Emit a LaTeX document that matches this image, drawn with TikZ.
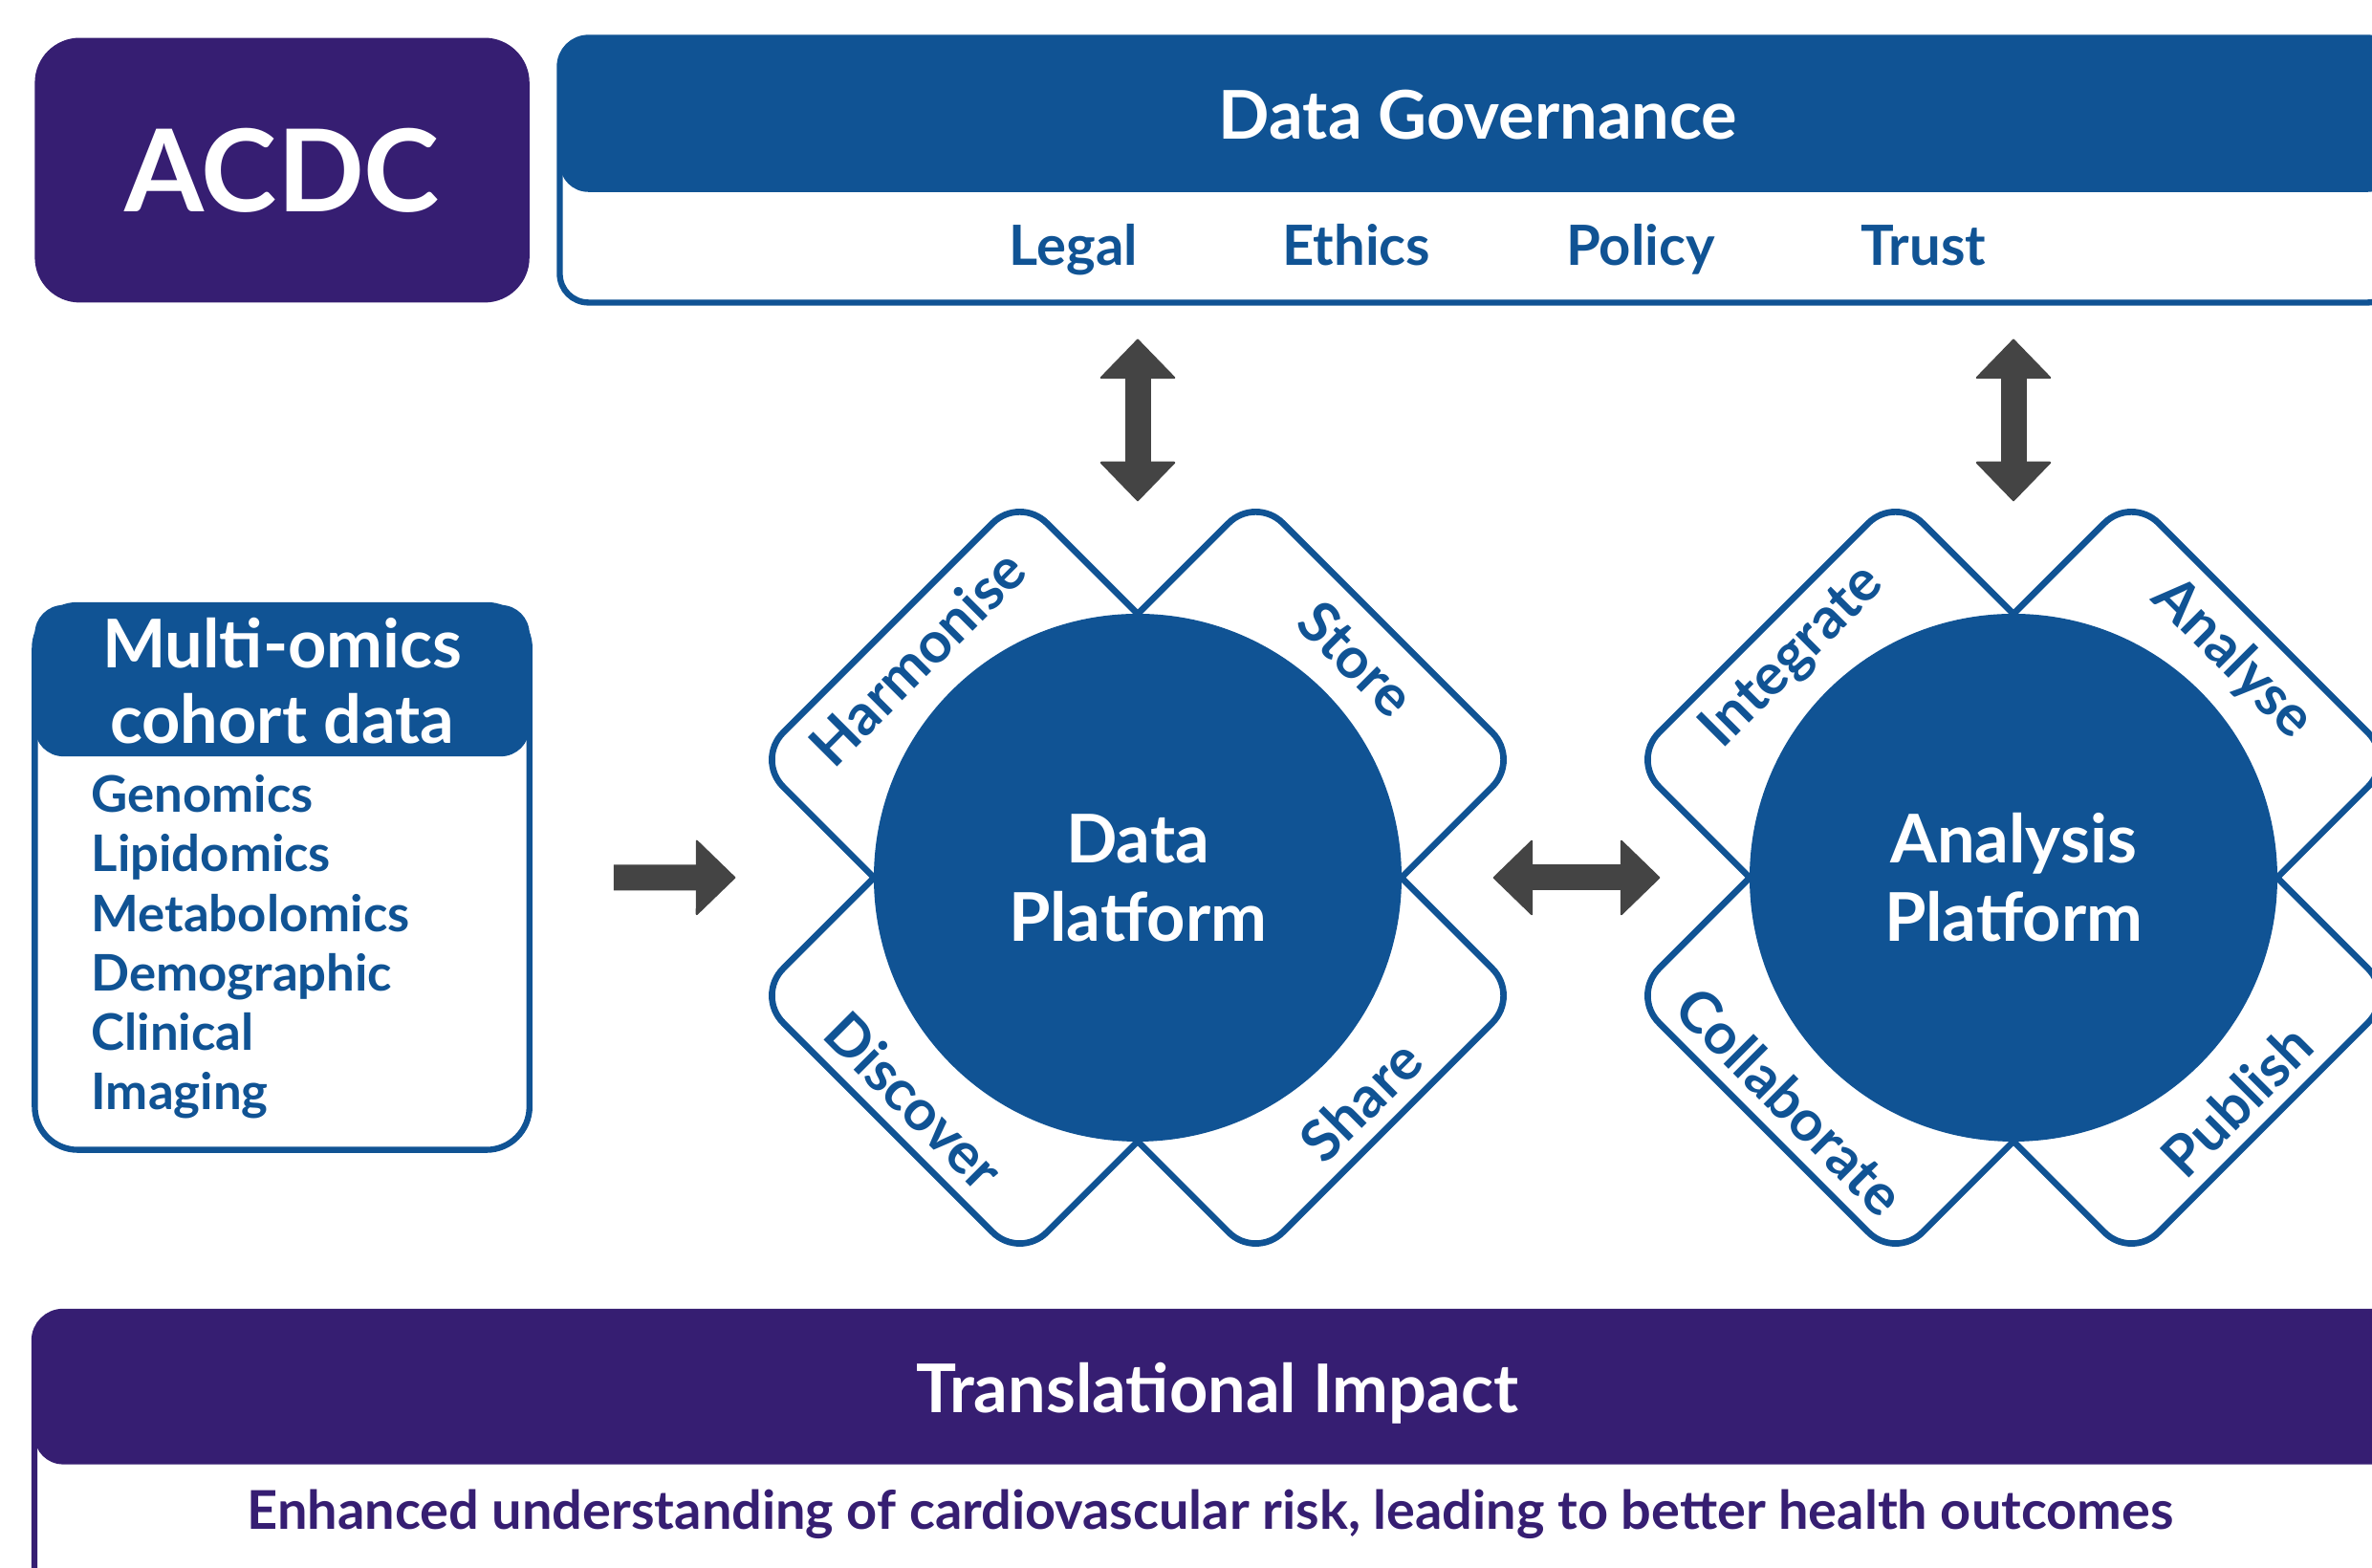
\documentclass[tikz,border=0pt]{standalone}
\usepackage{fontspec}
\setmainfont{Lato}
\usetikzlibrary{arrows.meta,positioning}

\definecolor{acdcpurple}{RGB}{54,30,114}
\definecolor{acdcblue}{RGB}{16,83,148}
\definecolor{arrowgrey}{RGB}{68,68,68}

\tikzset{
  headbox/.style={rectangle, rounded corners=0.3cm, inner sep=0pt, text depth=0pt,
    text=white, font=\bfseries\fontsize{20}{22.5}\selectfont},
  framebox/.style={rectangle, draw=#1, fill=white, line width=1.8pt,
    rounded corners=0.3cm, inner sep=0pt},
  petal/.style={rectangle, draw=acdcblue, line width=1.9pt, rounded corners=0.4cm,
    minimum size=3.9cm, inner sep=0pt, rotate=45},
  platform/.style={circle, fill=acdcblue, minimum size=5.52cm, inner sep=0pt,
    text=white, align=center, font=\bfseries\fontsize{20}{23.3}\selectfont},
  task/.style={inner sep=0pt, text=acdcblue, font=\bfseries\fontsize{17}{20}\selectfont},
  govitem/.style={inner sep=0pt, anchor=base, text=acdcblue,
    font=\bfseries\fontsize{16.5}{20}\selectfont},
  omicsitem/.style={inner sep=0pt, anchor=base west, text=acdcblue,
    font=\bfseries\fontsize{15}{18}\selectfont},
  bigtip/.tip={Triangle[width=0.81cm, length=0.42cm, round, line width=0.6pt]},
  bigarrow/.style={draw=arrowgrey, line width=0.27cm, -bigtip},
  bigdouble/.style={bigarrow, bigtip-bigtip}
}

\begin{document}
\begin{tikzpicture}
  \useasboundingbox (0,0) rectangle (24.81,16.40);
  \clip (0,0) rectangle (24.81,16.40);

  \node[headbox, fill=acdcpurple, rounded corners=0.47cm, minimum width=5.174cm,
    minimum height=2.769cm, font=\bfseries\fontsize{34}{40}\selectfont]
    (acdc) at (2.951,14.62) {ACDC};

  \node[framebox=acdcblue, minimum width=19.21cm, minimum height=2.769cm]
    (gov) at (15.46,14.62) {};
  \node[headbox, fill=acdcblue, minimum width=19.21cm, minimum height=1.61cm]
    (govhead) at (15.46,15.197) {Data Governance};
  \node[govitem] (legal) at (11.23,13.62) {Legal};
  \node[govitem] (ethics) at (14.19,13.62) {Ethics};
  \node[govitem] (policy) at (17.16,13.62) {Policy};
  \node[govitem] (trust) at (20.12,13.62) {Trust};

  \node[framebox=acdcblue, rounded corners=0.45cm, minimum width=5.174cm,
    minimum height=5.697cm] (omics) at (2.951,7.222) {};
  \node[headbox, fill=acdcblue, minimum width=5.174cm, minimum height=1.583cm,
    align=center] (omicshead) at (2.951,9.28) {Multi-omics\\cohort data};
  \node[omicsitem] (genomics) at (0.949,7.903) {Genomics};
  \node[omicsitem] (lipidomics) at (0.949,7.281) {Lipidomics};
  \node[omicsitem] (metabolomics) at (0.949,6.659) {Metabolomics};
  \node[omicsitem] (demographic) at (0.949,6.037) {Demographic};
  \node[omicsitem] (clinical) at (0.949,5.415) {Clinical};
  \node[omicsitem] (imaging) at (0.949,4.793) {Imaging};

  \coordinate (dpc) at (11.90,7.22);
  \node[petal] (harmonise-p) at ([shift={(-1.234,1.234)}]dpc) {};
  \node[petal] (store-p) at ([shift={(1.234,1.234)}]dpc) {};
  \node[petal] (discover-p) at ([shift={(-1.234,-1.234)}]dpc) {};
  \node[petal] (share-p) at ([shift={(1.234,-1.234)}]dpc) {};
  \node[platform] (dp) at (dpc) {Data\\Platform};
  \node[task, rotate=45] (harmonise) at ([shift={(135:3.26)}]dpc) {Harmonise};
  \node[task, rotate=-45] (store) at ([shift={(45:3.24)}]dpc) {Store};
  \node[task, rotate=-45] (discover) at ([shift={(225:3.30)}]dpc) {Discover};
  \node[task, rotate=45] (share) at ([shift={(315:3.30)}]dpc) {Share};

  \coordinate (apc) at (21.06,7.22);
  \node[petal] (integrate-p) at ([shift={(-1.234,1.234)}]apc) {};
  \node[petal] (analyse-p) at ([shift={(1.234,1.234)}]apc) {};
  \node[petal] (collaborate-p) at ([shift={(-1.234,-1.234)}]apc) {};
  \node[petal] (publish-p) at ([shift={(1.234,-1.234)}]apc) {};
  \node[platform] (ap) at (apc) {Analysis\\Platform};
  \node[task, rotate=45] (integrate) at ([shift={(135:3.26)}]apc) {Integrate};
  \node[task, rotate=-45] (analyse) at ([shift={(45:3.24)}]apc) {Analyse};
  \node[task, rotate=-45] (collaborate) at ([shift={(225:3.30)}]apc) {Collaborate};
  \node[task, rotate=45] (publish) at ([shift={(315:3.30)}]apc) {Publish};

  \draw[bigarrow, shorten <=0.85cm, shorten >=1.44cm] (omics.east) -- (dp.west);
  \draw[bigdouble, shorten <=0.95cm, shorten >=0.93cm] (dp.east) -- (ap.west);
  \draw[bigdouble, shorten <=0.35cm, shorten >=1.17cm] (gov.south -| dp.north) -- (dp.north);
  \draw[bigdouble, shorten <=0.35cm, shorten >=1.17cm] (gov.south -| ap.north) -- (ap.north);

  \node[framebox=acdcpurple, minimum width=24.74cm, minimum height=3.0cm]
    (impact) at (12.73,1.18) {};
  \node[headbox, fill=acdcpurple, minimum width=24.74cm, minimum height=1.597cm]
    (impacthead) at (12.73,1.8825) {Translational Impact};
  \node[inner sep=0pt, anchor=base, text=acdcpurple, font=\bfseries\fontsize{15.9}{19}\selectfont]
    (outcome) at (12.66,0.40)
    {Enhanced understanding of cardiovascular risk, leading to better health outcomes};
\end{tikzpicture}
\end{document}
